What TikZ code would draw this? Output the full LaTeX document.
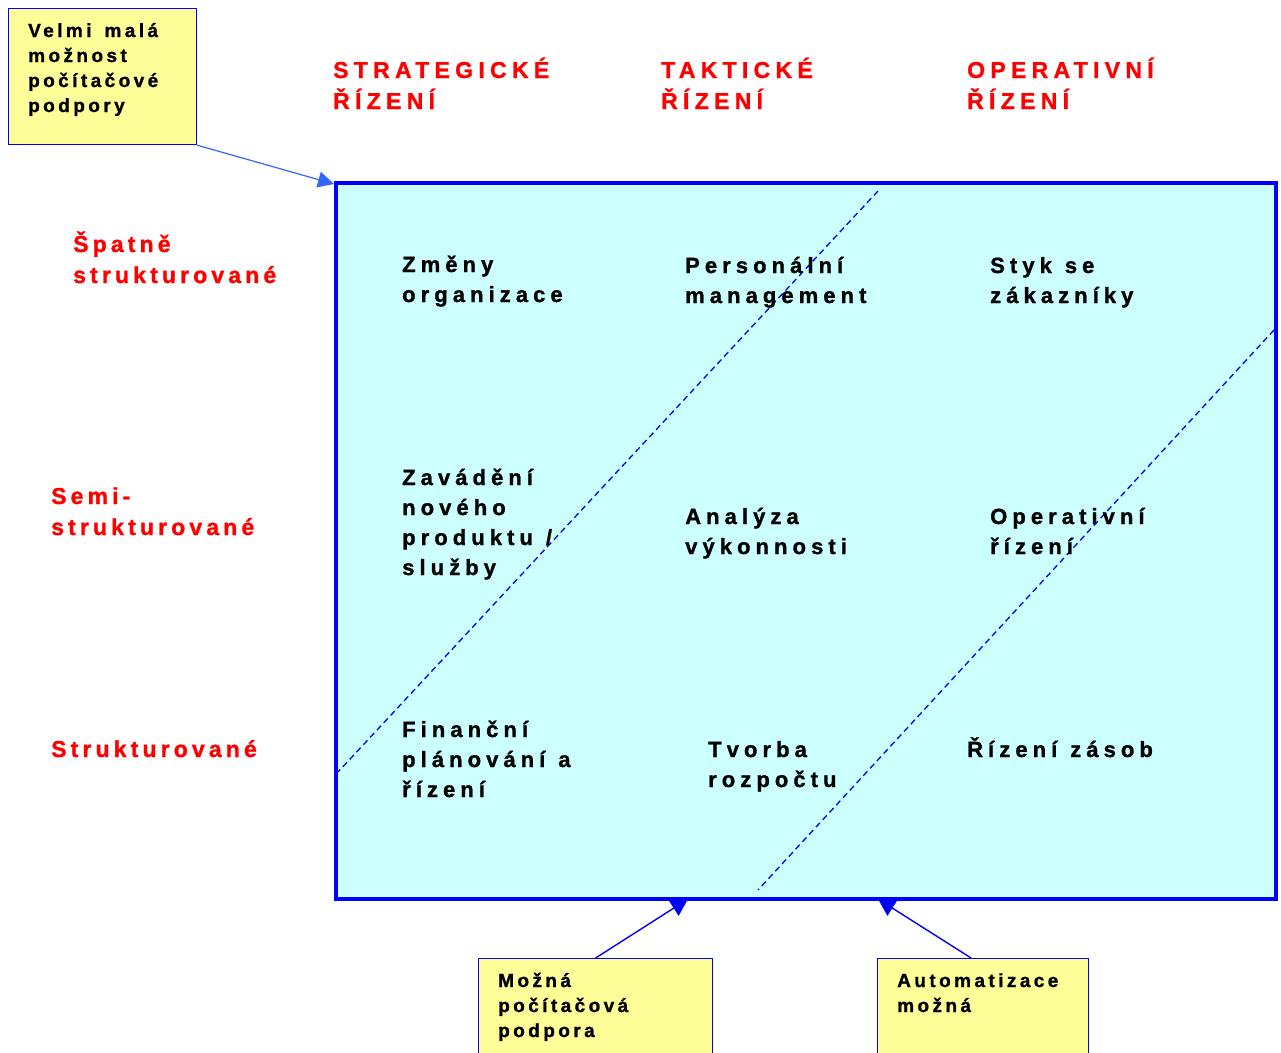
\documentclass[tikz,border=0pt]{standalone}
\usepackage{fontspec}
\setmainfont{Liberation Sans}
\newfontfamily\cellfont[LetterSpace=23, FakeBold=1.2]{Liberation Sans Bold}
\newfontfamily\rowfont[LetterSpace=18, FakeBold=1.2]{Liberation Sans Bold}
\usetikzlibrary{arrows.meta}
\definecolor{cellfill}{HTML}{CCFFFF}
\definecolor{notefill}{HTML}{FFFF99}
\definecolor{frameblue}{HTML}{0000FF}
\definecolor{pointerblue}{HTML}{3366FF}
\definecolor{headred}{HTML}{FF0000}
% word gap for the letter-spaced labels
\newcommand{\wgap}{\hspace{13pt}}
\begin{document}
\begin{tikzpicture}[x=1pt,y=-1pt,
  lbl/.style={anchor=base west, inner sep=0pt, align=left, text width=300pt,
    font=\cellfont\fontsize{22}{30}\selectfont},
  head/.style={lbl, text=headred, font=\cellfont\fontsize{23}{31}\selectfont},
  rowhead/.style={lbl, text=headred, font=\rowfont\fontsize{23}{31}\selectfont},
  notetext/.style={lbl, font=\rowfont\fontsize{19}{25}\selectfont},
  notebox/.style={draw=frameblue, line width=1.2pt, fill=notefill, anchor=north west, inner sep=0pt},
  pointer/.style={-{Triangle[length=17pt,width=18pt]}, line width=1.4pt},
  split/.style={draw=frameblue, line width=1.3pt, dash pattern=on 6pt off 4pt}
]
\useasboundingbox (0,0) rectangle (1281,1052);
\clip (0,0) rectangle (1281,1052);

% outline of the main grid (painted after the pointers, so it covers their tips)
\node[minimum width=940pt, minimum height=716pt, inner sep=0pt, outer sep=0pt]
  (grid) at (806,541) {};

% notes
\node[notebox, minimum width=188pt, minimum height=136pt] (lowsup) at (8,8) {};
\node[notetext] (lowsuptext) at (28,37) {Velmi\wgap malá\\možnost\\počítačové\\podpory};
\node[notebox, minimum width=234pt, minimum height=120pt] (possup) at (478,958) {};
\node[notetext] (possuptext) at (498,987) {Možná\\počítačová\\podpora};
\node[notebox, minimum width=211pt, minimum height=120pt] (auto) at (877,958) {};
\node[notetext] (autotext) at (897,987) {Automatizace\\možná};

% pointers to the frame
\draw[pointer, pointerblue, line width=1.2pt, -{Triangle[length=16pt,width=16pt]}]
  (lowsup.south east) -- ([shift={(-2pt,-1pt)}]grid.north west);
\draw[pointer, frameblue] (possup.north) -- ([xshift=352pt]grid.south west);
\draw[pointer, frameblue] ([xshift=-12pt]auto.north) -- ([xshift=542pt]grid.south west);

% main grid frame
\draw[draw=frameblue, line width=4.5pt, fill=cellfill]
  (grid.south west) rectangle (grid.north east);

% diagonal boundaries between the zones
\draw[split] (878,191) -- (338,772);
\draw[split] (1274,330) -- (758,890);

% column headings
\node[head] (hstrat) at (333,78) {STRATEGICKÉ\\ŘÍZENÍ};
\node[head] (htakt) at (661,78) {TAKTICKÉ\\ŘÍZENÍ};
\node[head] (hoper) at (967,78) {OPERATIVNÍ\\ŘÍZENÍ};

% row headings
\node[rowhead] (rpoor) at (73,252) {Špatně\\strukturované};
\node[rowhead] (rsemi) at (51,504) {Semi-\\strukturované};
\node[rowhead] (rstruct) at (51,757) {Strukturované};

% cells
\node[lbl] (c11) at (402,272) {Změny\\organizace};
\node[lbl] (c12) at (685,273) {Personální\\management};
\node[lbl] (c13) at (990,273) {Styk\wgap se\\zákazníky};
\node[lbl] (c21) at (402,485) {Zavádění\\nového\\produktu\wgap/\\služby};
\node[lbl] (c22) at (685,524) {Analýza\\výkonnosti};
\node[lbl] (c23) at (990,524) {Operativní\\řízení};
\node[lbl] (c31) at (402,737) {Finanční\\plánování\wgap a\\řízení};
\node[lbl] (c32) at (708,757) {Tvorba\\rozpočtu};
\node[lbl] (c33) at (967,757) {Řízení\wgap zásob};
\end{tikzpicture}
\end{document}
